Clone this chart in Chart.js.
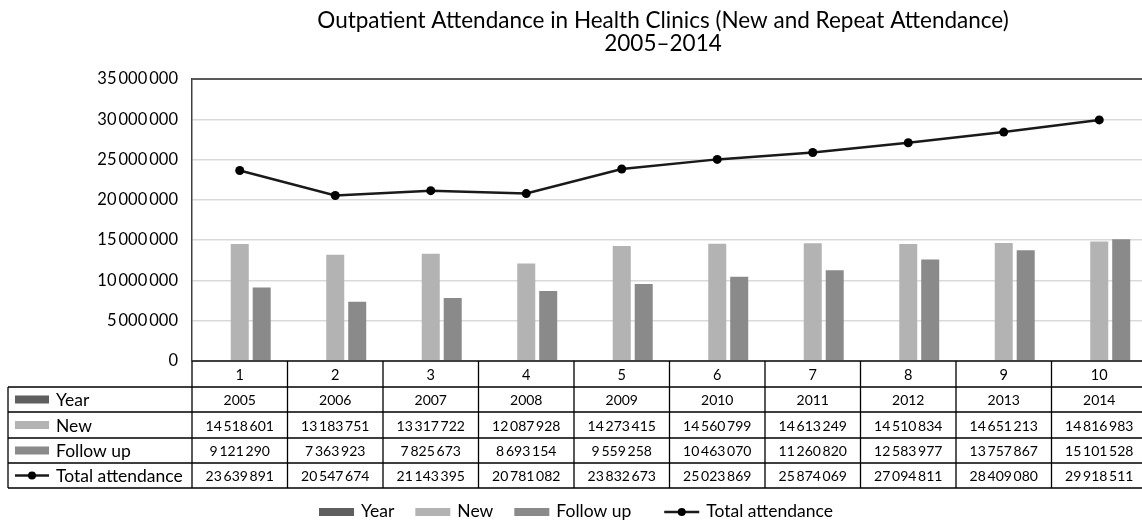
<!DOCTYPE html>
<html>
<head>
<meta charset="utf-8">
<title>Outpatient Attendance in Health Clinics</title>
<script src="https://cdn.jsdelivr.net/npm/chart.js@4.4.1/dist/chart.umd.min.js"></script>
<style>
    html, body { margin: 0; padding: 0; background: #fff; overflow: hidden; }
    #wrap { position: relative; width: 1152px; height: 521px; }
</style>
</head>
<body>
<div id="wrap"><canvas id="chart" width="1152" height="521"></canvas></div>
<script>
// === DATA ===
const categories = ['1', '2', '3', '4', '5', '6', '7', '8', '9', '10'];
const years = [2005, 2006, 2007, 2008, 2009, 2010, 2011, 2012, 2013, 2014];
const newAttendance = [14518601, 13183751, 13317722, 12087928, 14273415, 14560799, 14613249, 14510834, 14651213, 14816983];
const followUp = [9121290, 7363923, 7825673, 8693154, 9559258, 10463070, 11260820, 12583977, 13757867, 15101528];
const totalAttendance = [23639891, 20547674, 21143395, 20781082, 23832673, 25023869, 25874069, 27094811, 28409080, 29918511];
const yTickValues = [0, 5000000, 10000000, 15000000, 20000000, 25000000, 30000000, 35000000];
const titleLines = ['Outpatient Attendance in Health Clinics (New and Repeat Attendance)', '2005\u20132014'];

const FONT = 'Lato, "Open Sans", sans-serif';

// numbers shown with thin spaces as thousands separator
function fmt(n) {
    return String(n).replace(/\B(?=(\d{3})+(?!\d))/g, '\u2009');
}

// draws title, plot border, data table and legend
const tablePlugin = {
    id: 'dataTable',
    afterDraw(chart) {
        const ctx = chart.ctx;
        const area = chart.chartArea;
        const x = chart.scales.x;
        const half = (x.getPixelForValue(1) - x.getPixelForValue(0)) / 2;
        const ds = chart.data.datasets;

        ctx.save();

        // title
        ctx.fillStyle = '#000';
        ctx.textAlign = 'center';
        ctx.textBaseline = 'middle';
        ctx.font = '22.5px ' + FONT;
        ctx.fillText(titleLines[0], 663, 21);
        ctx.fillText(titleLines[1], 663, 44);

        // plot border top + axis line
        ctx.strokeStyle = '#595959';
        ctx.lineWidth = 2;
        ctx.beginPath();
        ctx.moveTo(area.left, area.top);
        ctx.lineTo(area.right, area.top);
        ctx.stroke();
        ctx.strokeStyle = '#404040';
        ctx.beginPath();
        ctx.moveTo(area.left, area.bottom);
        ctx.lineTo(area.right, area.bottom);
        ctx.stroke();

        // table grid
        const rowTops = [area.bottom, 387, 412, 438, 463, 488];
        const tableLeft = 8;
        ctx.strokeStyle = '#000';
        ctx.lineWidth = 1.3;
        ctx.beginPath();
        for (let i = 0; i <= categories.length; i++) {
            const cx = x.getPixelForValue(0) - half + i * half * 2;
            ctx.moveTo(cx, area.bottom);
            ctx.lineTo(cx, rowTops[5]);
        }
        ctx.moveTo(tableLeft, rowTops[1]);
        ctx.lineTo(tableLeft, rowTops[5]);
        for (let r = 1; r < rowTops.length; r++) {
            ctx.moveTo(tableLeft, rowTops[r]);
            ctx.lineTo(area.right, rowTops[r]);
        }
        ctx.stroke();

        // header row: category labels
        ctx.fillStyle = '#000';
        ctx.textAlign = 'center';
        ctx.font = '14.5px ' + FONT;
        categories.forEach((c, i) => {
            ctx.fillText(c, x.getPixelForValue(i), (rowTops[0] + rowTops[1]) / 2 + 1);
        });

        // data rows
        const rows = [years, newAttendance, followUp, totalAttendance];
        ctx.font = '14px ' + FONT;
        rows.forEach((vals, r) => {
            const cy = (rowTops[r + 1] + rowTops[r + 2]) / 2 + 1;
            vals.forEach((v, i) => {
                const txt = r === 0 ? String(v) : fmt(v);
                ctx.fillText(txt, x.getPixelForValue(i), cy);
            });
        });

        // row labels with swatches
        ctx.textAlign = 'left';
        ctx.font = '17.5px ' + FONT;
        ds.forEach((d, r) => {
            const cy = (rowTops[r + 1] + rowTops[r + 2]) / 2;
            drawSwatch(ctx, d, 15, 49, cy);
            ctx.fillStyle = '#000';
            ctx.fillText(d.label, 56, cy + 1);
        });

        // legend at bottom
        const legendY = 511;
        const items = ds.map(d => ({ d, w: 35 + 7 + ctx.measureText(d.label).width }));
        const gap = 21;
        const extra = 12;
        const total = items.reduce((s, it) => s + it.w, 0) + gap * (items.length - 1) + extra;
        let lx = 576 - total / 2;
        items.forEach(it => {
            if (it.d.type === 'line') lx += extra;
            drawSwatch(ctx, it.d, lx, lx + 35, legendY + 1);
            ctx.fillStyle = '#000';
            ctx.fillText(it.d.label, lx + 42, legendY);
            lx += it.w + gap;
        });

        ctx.restore();
    }
};

function drawSwatch(ctx, d, x0, x1, cy) {
    if (d.type === 'line') {
        ctx.strokeStyle = d.borderColor;
        ctx.lineWidth = 2.5;
        ctx.beginPath();
        ctx.moveTo(x0, cy);
        ctx.lineTo(x1, cy);
        ctx.stroke();
        ctx.fillStyle = d.pointBackgroundColor;
        ctx.beginPath();
        ctx.arc((x0 + x1) / 2, cy, 4, 0, Math.PI * 2);
        ctx.fill();
    } else {
        ctx.fillStyle = d.backgroundColor;
        ctx.fillRect(x0, cy - 4, x1 - x0, 8);
    }
}

new Chart(document.getElementById('chart'), {
    type: 'bar',
    data: {
        labels: categories,
        datasets: [
            { label: 'Year', data: years, backgroundColor: '#5f5f5f', order: 1 },
            { label: 'New', data: newAttendance, backgroundColor: '#b3b3b3', order: 1 },
            { label: 'Follow up', data: followUp, backgroundColor: '#8a8a8a', order: 1 },
            {
                label: 'Total attendance', type: 'line', data: totalAttendance,
                borderColor: '#1a1a1a', borderWidth: 2.5, tension: 0,
                pointRadius: 4.5, pointBackgroundColor: '#000', pointBorderWidth: 0,
                order: 0
            }
        ]
    },
    options: {
        responsive: false,
        animation: false,
        devicePixelRatio: 1,
        categoryPercentage: 0.69,
        barPercentage: 0.82,
        layout: { padding: { left: 0, top: 79, right: 5, bottom: 0 } },
        plugins: {
            legend: { display: false },
            title: { display: false },
            tooltip: { enabled: false }
        },
        scales: {
            x: {
                afterFit: s => { s.height = 521 - 361; },
                ticks: { display: false },
                grid: { display: false },
                border: { display: false }
            },
            y: {
                min: 0,
                max: 35000000,
                afterFit: s => { s.width = 192; },
                afterBuildTicks: s => { s.ticks = yTickValues.map(v => ({ value: v })); },
                ticks: {
                    callback: v => fmt(v),
                    color: '#000',
                    padding: 14,
                    font: { family: FONT, size: 16.5 }
                },
                grid: { color: '#d9d9d9', lineWidth: 1.5, drawTicks: false },
                border: { color: '#404040', width: 1.5 }
            }
        }
    },
    plugins: [tablePlugin]
});
</script>
</body>
</html>
